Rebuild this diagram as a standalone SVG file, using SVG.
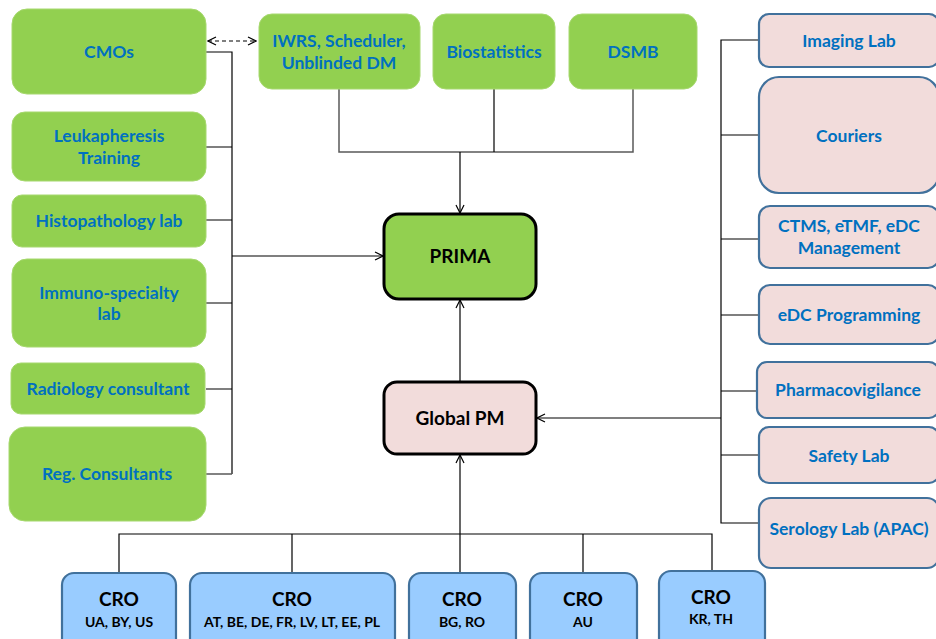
<svg xmlns="http://www.w3.org/2000/svg" width="936" height="639" viewBox="0 0 936 639">
<defs>
<marker id="arr" viewBox="0 0 10 10" refX="9" refY="5" markerWidth="10" markerHeight="10" markerUnits="userSpaceOnUse" orient="auto-start-reverse">
<path d="M1,1 L9,5 L1,9" fill="none" stroke="#000" stroke-width="1.2"/>
</marker>
</defs>
<style>
.g{fill:#92D050;stroke:#A6D86E;stroke-width:1}
.p{fill:#F2DCDB;stroke:#41719C;stroke-width:2.2}
.c{fill:#99CCFF;stroke:#41719C;stroke-width:2.2}
.k{stroke:#000;stroke-width:3}
.t{font-family:Lato,"Open Sans","Liberation Sans",sans-serif;font-weight:bold;font-size:17.5px;fill:#0070C0;text-anchor:middle}
.tk{font-family:Lato,"Open Sans","Liberation Sans",sans-serif;font-weight:bold;font-size:19px;fill:#000;text-anchor:middle}
.ts{font-family:Lato,"Open Sans","Liberation Sans",sans-serif;font-weight:bold;font-size:14px;fill:#000;text-anchor:middle}
.l{fill:none;stroke:#000;stroke-width:1.2}
.lg{fill:none;stroke:#595959;stroke-width:1.5}
</style>
<g id="connectors">
<path class="l" d="M206,52 H232 V474"/>
<path class="l" d="M206,147 H232 M206,220 H232 M206,303 H232 M206,389 H232" stroke-width="2"/>
<path class="lg" d="M206,474 H232"/>
<path class="l" d="M232,256 H383" marker-end="url(#arr)"/>
<path class="l" d="M208,41 H256" stroke-dasharray="4,3" marker-start="url(#arr)" marker-end="url(#arr)"/>
<path class="lg" d="M339,89 V152 H633 V89"/>
<path class="l" d="M494,89 V152" stroke-width="2.5"/>
<path class="l" d="M460,152 V213" marker-end="url(#arr)"/>
<path class="l" d="M460,382 V300" marker-end="url(#arr)"/>
<path class="l" d="M759,40 H721 V523 H759"/>
<path class="l" d="M721,135 H759 M721,239 H759 M721,315 H759 M721,455 H759"/>
<path class="l" d="M721,391 H757" stroke-width="2.5"/>
<path class="l" d="M721,418 H537" marker-end="url(#arr)"/>
<path class="l" d="M460,534 V455" marker-end="url(#arr)"/>
<path class="l" d="M119,573 V534 H712 V571"/>
<path class="l" d="M292,534 V573 M460,534 V573 M583,534 V573"/>
</g>
<g id="cmos"><rect class="g" x="12" y="9" width="194" height="85" rx="15"/><text class="t" x="109" y="58">CMOs</text></g>
<g id="leuk"><rect class="g" x="12" y="112" width="194" height="69" rx="13"/><text class="t" x="109" y="142">Leukapheresis</text><text class="t" x="109" y="164">Training</text></g>
<g id="histo"><rect class="g" x="12" y="195" width="194" height="52" rx="10"/><text class="t" x="109" y="227">Histopathology lab</text></g>
<g id="immuno"><rect class="g" x="12" y="259" width="194" height="88" rx="15"/><text class="t" x="109" y="299">Immuno-specialty</text><text class="t" x="109" y="320">lab</text></g>
<g id="radio"><rect class="g" x="11" y="363" width="194" height="51" rx="10"/><text class="t" x="108" y="395">Radiology consultant</text></g>
<g id="reg"><rect class="g" x="9" y="427" width="197" height="94" rx="16"/><text class="t" x="107" y="480">Reg. Consultants</text></g>
<g id="iwrs"><rect class="g" x="259" y="14" width="161" height="75" rx="13"/><text class="t" x="339" y="47">IWRS, Scheduler,</text><text class="t" x="339" y="69">Unblinded DM</text></g>
<g id="biostat"><rect class="g" x="433" y="14" width="122" height="75" rx="13"/><text class="t" x="494" y="58">Biostatistics</text></g>
<g id="dsmb"><rect class="g" x="569" y="14" width="128" height="75" rx="13"/><text class="t" x="633" y="58">DSMB</text></g>
<g id="prima"><rect x="384" y="214" width="152" height="85" rx="15" fill="#92D050" class="k"/><text class="tk" x="460" y="263">PRIMA</text></g>
<g id="globalpm"><rect x="384" y="382" width="152" height="72" rx="13" fill="#F2DCDB" class="k"/><text class="tk" x="460" y="425">Global PM</text></g>
<g id="imaging"><rect class="p" x="759" y="14" width="180" height="53" rx="10"/><text class="t" x="849" y="47">Imaging Lab</text></g>
<g id="couriers"><rect class="p" x="759" y="77" width="180" height="116" rx="20"/><text class="t" x="849" y="142">Couriers</text></g>
<g id="ctms"><rect class="p" x="759" y="206" width="180" height="62" rx="11"/><text class="t" x="849" y="232">CTMS, eTMF, eDC</text><text class="t" x="849" y="254">Management</text></g>
<g id="edc"><rect class="p" x="759" y="285" width="180" height="59" rx="11"/><text class="t" x="849" y="321">eDC Programming</text></g>
<g id="pharma"><rect class="p" x="757" y="362" width="182" height="56" rx="10"/><text class="t" x="848" y="396">Pharmacovigilance</text></g>
<g id="safety"><rect class="p" x="759" y="427" width="180" height="56" rx="10"/><text class="t" x="849" y="462">Safety Lab</text></g>
<g id="serology"><rect class="p" x="759" y="498" width="180" height="70" rx="12"/><text class="t" x="849" y="535">Serology Lab (APAC)</text></g>
<g id="cro1"><rect class="c" x="62" y="573" width="114" height="80" rx="12"/><text class="tk" x="119" y="606">CRO</text><text class="ts" x="119" y="627">UA, BY, US</text></g>
<g id="cro2"><rect class="c" x="190" y="573" width="205" height="80" rx="12"/><text class="tk" x="292" y="606">CRO</text><text class="ts" x="292" y="627">AT, BE, DE, FR, LV, LT, EE, PL</text></g>
<g id="cro3"><rect class="c" x="409" y="573" width="107" height="80" rx="12"/><text class="tk" x="462" y="606">CRO</text><text class="ts" x="462" y="627">BG, RO</text></g>
<g id="cro4"><rect class="c" x="530" y="573" width="107" height="80" rx="12"/><text class="tk" x="583" y="606">CRO</text><text class="ts" x="583" y="627">AU</text></g>
<g id="cro5"><rect class="c" x="659" y="571" width="106" height="80" rx="12"/><text class="tk" x="711" y="604">CRO</text><text class="ts" x="711" y="624">KR, TH</text></g>
</svg>
